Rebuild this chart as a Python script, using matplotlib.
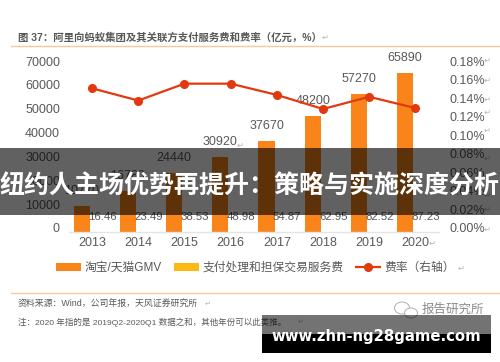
import matplotlib
matplotlib.use('Agg')
import matplotlib.pyplot as plt
from matplotlib.transforms import ScaledTranslation
from matplotlib.patches import Rectangle, Ellipse

plt.rcParams['font.family'] = ['Liberation Sans', 'Noto Sans CJK SC', 'DejaVu Sans']

years = ['2013', '2014', '2015', '2016', '2017', '2018', '2019', '2020']
gmv = [10770, 16780, 24440, 30920, 37670, 48200, 57270, 65890]
fees = [16.46, 23.49, 38.53, 48.98, 54.87, 62.95, 82.52, 87.23]
rate = [0.153, 0.140, 0.158, 0.158, 0.146, 0.131, 0.144, 0.132]
left_ticks = [0, 10000, 20000, 30000, 40000, 50000, 60000, 70000]
right_ticks = [0, 0.02, 0.04, 0.06, 0.08, 0.10, 0.12, 0.14, 0.16, 0.18]

W, H = 500, 362
GRAY = '#595959'
ORANGE = '#F8841A'
YELLOW = '#FDB913'
RED = '#E2390F'
ARROW = '#B5B5B5'

fig = plt.figure(figsize=(5, 3.62), dpi=100, facecolor='white')
ax = fig.add_axes([69 / W, 1 - 232 / H, 369.5 / W, 169 / H])
ax.set_facecolor('none')

# пара стовпців на рік, другий майже нульової висоти
x = list(range(len(years)))
off = 10.3 / 46.2
bars = ax.bar([i - off for i in x], gmv, width=0.35, color=ORANGE, label='淘宝/天猫GMV')
bars2 = ax.bar([i + off for i in x], fees, width=0.35, color=YELLOW, label='支付处理和担保交易服务费')
ax.set_xlim(-0.5, 7.5)
ax.set_ylim(0, 70000)
ax.set_xticks(x)
ax.set_xticklabels(years, fontsize=9, color=GRAY)
ax.set_yticks(left_ticks)
ax.set_yticklabels([str(v) for v in left_ticks], fontsize=9, color=GRAY)
ax.tick_params(length=0)
ax.tick_params(axis='y', pad=6.5)
ax.tick_params(axis='x', pad=3.5)
for s in ['top', 'left', 'right']:
    ax.spines[s].set_visible(False)
ax.spines['bottom'].set_color('#E4E4E4')
ax.spines['bottom'].set_linewidth(1)

for i, v in enumerate(gmv):
    ax.annotate(str(v), (i - off, v), xytext=(0, 6.5), textcoords='offset points',
                ha='center', va='bottom', fontsize=9, color=GRAY)
for i, v in enumerate(fees):
    ax.annotate(f'{v:.2f}', (i + off, 0), xytext=(0, 11), textcoords='offset points',
                ha='center', va='center', fontsize=8.2, color=GRAY)

ax2 = ax.twinx()
ax2.set_ylim(0, 0.18)
line, = ax2.plot(x, rate, color=RED, linewidth=1.6, marker='o', markersize=5.5,
                 label='费率（右轴）')
ax2.set_yticks(right_ticks)
ax2.set_yticklabels([f'{v:.2f}%' for v in right_ticks], fontsize=9, color=GRAY)
ax2.tick_params(length=0, pad=8)
for s in ['top', 'left', 'right', 'bottom']:
    ax2.spines[s].set_visible(False)

# підписи осей у джерелі трохи вище за поділки
for axis_, ticks, top in [(ax, left_ticks, 70000), (ax2, right_ticks, 0.18)]:
    for lab, v in zip(axis_.get_yticklabels(), ticks):
        shift = (4 - 2 * v / top) / 100
        lab.set_transform(lab.get_transform() + ScaledTranslation(0, shift, fig.dpi_scale_trans))

def px(xp, yp, s, **kw):
    kw.setdefault('color', GRAY)
    kw.setdefault('va', 'center')
    return fig.text(xp / W, 1 - yp / H, s, **kw)

# значки абзацу зі скриншота
for yp in [60, 80, 99, 112, 130, 158, 176, 195, 209, 229]:
    px(484, yp, '↵', fontsize=6, color=ARROW, family=['DejaVu Sans'])
px(429, 243, '↵', fontsize=6, color=ARROW, family=['DejaVu Sans'])
px(237, 145, '↵', fontsize=6, color=ARROW, family=['DejaVu Sans'])
px(322, 37, '↵', fontsize=6, color=ARROW, family=['DejaVu Sans'])
px(205, 304, '↵', fontsize=5, color=ARROW, family=['DejaVu Sans'])
px(298, 322, '↵', fontsize=5, color=ARROW, family=['DejaVu Sans'])
px(458, 268, '↵', fontsize=6, color=ARROW, family=['DejaVu Sans'])

px(18, 37.5, '图 37：阿里向蚂蚁集团及其关联方支付服务费和费率（亿元，%）', fontsize=7.5, fontweight='bold')
px(18, 304, '资料来源：Wind，公司年报，天风证券研究所', fontsize=6.4)
px(18, 322.5, '注：2020 年指的是 2019Q2-2020Q1 数据之和，其他年份可以此类推。', fontsize=6.1)

for yp in [45.5, 292.5]:
    fig.add_artist(plt.Line2D([11 / W, 499 / W], [1 - yp / H] * 2, color='#F9C79C', linewidth=1))

leg = fig.legend(handles=[bars, bars2, line], loc='center left', ncol=3, frameon=False,
                 bbox_to_anchor=(50 / W, 1 - 268 / H), fontsize=8.5, labelcolor=GRAY,
                 handlelength=2.1, handletextpad=0.3, columnspacing=1.05, borderpad=0)

# значок і підпис акаунта
for cx, cy, ew, eh in [(402, 308, 15, 12), (411, 313, 13, 10)]:
    fig.add_artist(Ellipse((cx / W, 1 - cy / H), ew / W, eh / H, transform=fig.transFigure,
                           facecolor='white', edgecolor='#B0B0B0', linewidth=0.7))
px(422, 309.5, '报告研究所', fontsize=9, color='#8A8A8A')

# смуга з заголовком поверх графіка
fig.add_artist(Rectangle((0, 1 - 215 / H), 1, 67 / H, transform=fig.transFigure,
                         facecolor='black', alpha=0.62, edgecolor='none', zorder=5))
px(250, 187, '纽约人主场优势再提升：策略与实施深度分析', fontsize=18, fontweight='bold',
   color='white', ha='center', zorder=6)

# нижній банер
fig.add_artist(Rectangle((262 / W, 1 - 334 / H), 229 / W, 19 / H, transform=fig.transFigure,
                         facecolor='black', alpha=0.55, edgecolor='none', zorder=5))
fig.add_artist(Rectangle((262 / W, 1 - 353 / H), 229 / W, 19 / H, transform=fig.transFigure,
                         facecolor='black', edgecolor='none', zorder=5))
px(376, 336.5, 'www.zhn-ng28game.com', fontsize=10.7, fontweight='bold', color='white',
   ha='center', family=['DejaVu Sans'], zorder=6)

fig.savefig('out.png', dpi=100)
